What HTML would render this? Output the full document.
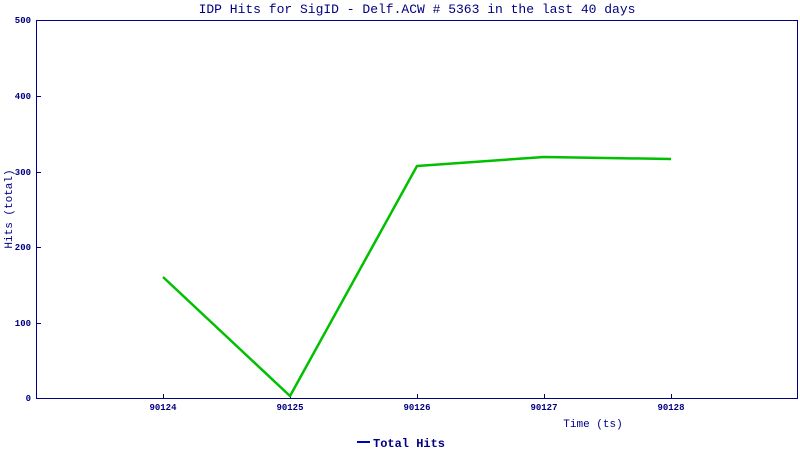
<!DOCTYPE html>
<html><head><style>body{margin:0;background:#fff}svg{display:block}</style></head><body>
<svg width="800" height="450" xmlns="http://www.w3.org/2000/svg" font-family="Liberation Mono, monospace" fill="#000080">
<rect width="800" height="450" fill="#fff"/>
<text x="417" y="13" font-size="13" text-anchor="middle">IDP Hits for SigID - Delf.ACW # 5363 in the last 40 days</text>
<rect x="36.5" y="20.5" width="761" height="378" fill="none" stroke="#000080" stroke-width="1"/>
<g stroke="#000080" stroke-width="1">
<line x1="36" y1="96.5" x2="41" y2="96.5"/><line x1="36" y1="172.5" x2="41" y2="172.5"/>
<line x1="36" y1="247.5" x2="41" y2="247.5"/><line x1="36" y1="323.5" x2="41" y2="323.5"/>
<line x1="163.5" y1="394" x2="163.5" y2="398"/><line x1="290.5" y1="394" x2="290.5" y2="398"/>
<line x1="417.5" y1="394" x2="417.5" y2="398"/><line x1="544.5" y1="394" x2="544.5" y2="398"/>
<line x1="671.5" y1="394" x2="671.5" y2="398"/>
</g>
<g font-size="9" font-weight="bold" text-anchor="end">
<text x="31" y="23">500</text><text x="31" y="99">400</text><text x="31" y="175">300</text>
<text x="31" y="250">200</text><text x="31" y="326">100</text><text x="31" y="401">0</text>
</g>
<g font-size="9" font-weight="bold" text-anchor="middle">
<text x="163" y="410">90124</text><text x="290" y="410">90125</text><text x="417" y="410">90126</text>
<text x="544" y="410">90127</text><text x="671" y="410">90128</text>
</g>
<text x="593" y="427" font-size="11" text-anchor="middle">Time (ts)</text>
<text transform="translate(12,209) rotate(-90)" font-size="11" text-anchor="middle">Hits (total)</text>
<polyline points="163,277 290,396 417,166 544,157 671,159" fill="none" stroke="#00c000" stroke-width="2.5" stroke-linejoin="round"/>
<line x1="357" y1="442" x2="370" y2="442" stroke="#0000c0" stroke-width="2"/>
<text x="373" y="447" font-size="12" font-weight="bold">Total Hits</text>
</svg>
</body></html>
